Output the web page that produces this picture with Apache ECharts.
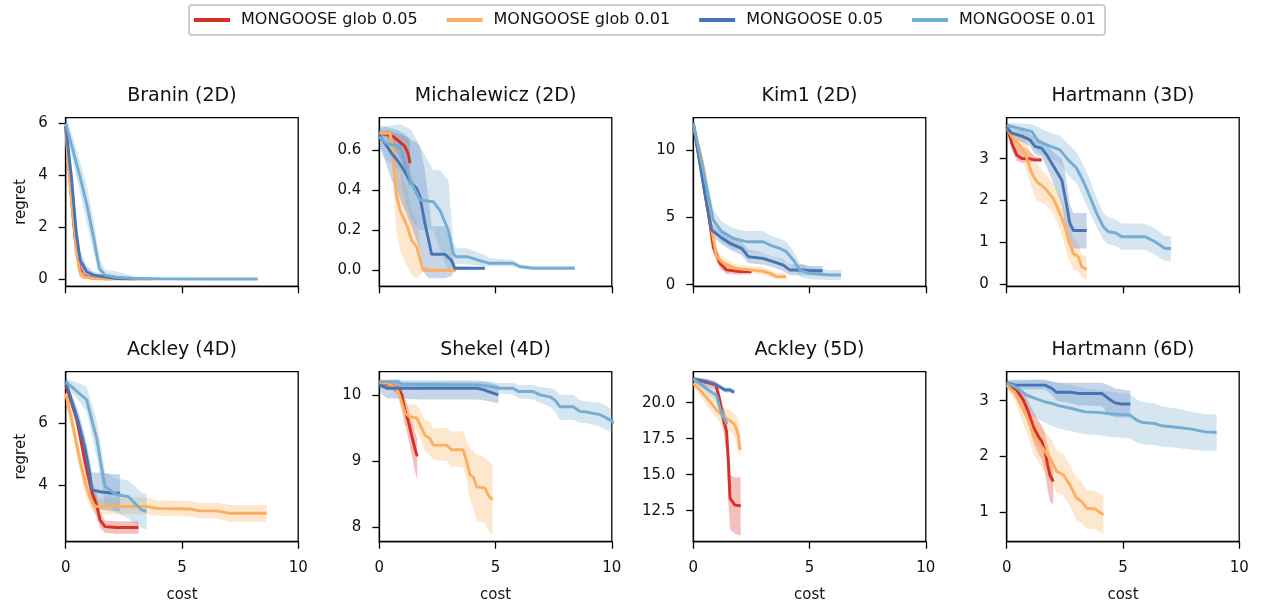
<!DOCTYPE html>
<html>
<head>
<meta charset="utf-8">
<script src="https://cdn.jsdelivr.net/npm/echarts@6/dist/echarts.min.js"></script>
<style>
html,body{margin:0;padding:0;background:#fff;}
#chart{width:1263px;height:607px;}
</style>
</head>
<body>
<div id="chart"></div>
<script>
// Each point: [cost, mean regret, lower band, upper band]
const seriesNames = ['MONGOOSE glob 0.05', 'MONGOOSE glob 0.01', 'MONGOOSE 0.05', 'MONGOOSE 0.01'];
const panelTitles = ['Branin (2D)', 'Michalewicz (2D)', 'Kim1 (2D)', 'Hartmann (3D)', 'Ackley (4D)', 'Shekel (4D)', 'Ackley (5D)', 'Hartmann (6D)'];
const xTicks = [0, 5, 10];

// Branin (2D)
const braninGlob05 = [[0,5.9,5.6,6.2],[0.2,3.6,3.0,4.3],[0.4,1.6,1.0,2.3],[0.6,0.4,0.1,0.8],[0.8,0.1,0,0.25],[1.2,0.03,0,0.08],[1.8,0.01,0,0.03],[2.0,0.01,0,0.02]];
const braninGlob01 = [[0,5.8,5.4,6.1],[0.15,4.0,3.4,4.6],[0.3,2.6,2.0,3.2],[0.45,1.2,0.7,1.8],[0.6,0.3,0.1,0.6],[0.8,0.08,0,0.2],[1.2,0.02,0,0.06],[2.0,0.01,0,0.03],[3.0,0.0,0,0.02],[3.7,0.0,0,0.01]];
const braninM05 = [[0,5.9,5.6,6.2],[0.26,3.8,3.3,4.3],[0.45,1.8,1.3,2.4],[0.62,0.73,0.45,1.1],[0.9,0.28,0.12,0.5],[1.2,0.15,0.05,0.28],[1.6,0.1,0.03,0.18],[2.2,0.02,0,0.06],[3.0,0.01,0,0.03]];
const braninM01 = [[0,6.0,5.8,6.3],[0.3,5.0,4.6,5.5],[0.6,4.0,3.4,4.6],[0.9,2.9,2.2,3.6],[1.2,1.6,1.0,2.3],[1.45,0.4,0.15,0.8],[1.7,0.15,0.05,0.35],[2.2,0.07,0.02,0.3],[3.0,0.02,0,0.08],[4.0,0.01,0,0.03],[6.0,0.0,0,0.02],[8.26,0.0,0,0.01]];
const braninY = [-0.28, 6.22]; const braninTicks = [0, 2, 4, 6];

// Michalewicz (2D)
const michGlob05 = [[0,0.685,0.68,0.69],[0.3,0.68,0.66,0.7],[0.6,0.668,0.62,0.69],[0.9,0.64,0.56,0.68],[1.1,0.62,0.48,0.67],[1.25,0.58,0.43,0.66],[1.32,0.535,0.42,0.65]];
const michGlob01 = [[0,0.685,0.68,0.69],[0.46,0.685,0.66,0.7],[0.57,0.62,0.5,0.69],[0.72,0.385,0.2,0.6],[0.89,0.30,0.1,0.5],[1.05,0.26,0.05,0.45],[1.2,0.22,0.02,0.4],[1.39,0.15,-0.02,0.3],[1.6,0.12,-0.04,0.25],[1.89,0.0,-0.01,0.02],[2.5,0.0,0,0.0],[3.3,0.0,0,0]];
const michM05 = [[0,0.677,0.62,0.72],[0.24,0.635,0.55,0.72],[0.53,0.585,0.45,0.71],[0.82,0.543,0.38,0.7],[1.1,0.493,0.3,0.68],[1.39,0.435,0.22,0.65],[1.6,0.41,0.15,0.64],[1.75,0.368,0.1,0.62],[1.96,0.235,-0.02,0.5],[2.15,0.135,-0.04,0.33],[2.25,0.08,-0.04,0.22],[2.82,0.08,-0.04,0.22],[3.1,0.05,-0.03,0.15],[3.25,0.01,0,0.02],[4.54,0.01,0.005,0.015]];
const michM01 = [[0,0.668,0.64,0.7],[0.3,0.635,0.55,0.72],[0.89,0.618,0.5,0.73],[1.1,0.535,0.35,0.72],[1.39,0.435,0.25,0.7],[1.75,0.352,0.2,0.62],[2.32,0.343,0.2,0.5],[2.61,0.30,0.1,0.5],[2.97,0.20,0.0,0.45],[3.18,0.085,0.02,0.15],[3.3,0.068,0.03,0.11],[3.76,0.068,0.03,0.11],[4.47,0.043,0.02,0.08],[4.76,0.035,0.02,0.06],[5.76,0.035,0.02,0.05],[6.05,0.018,0.01,0.03],[6.62,0.01,0.005,0.02],[8.41,0.01,0.005,0.02]];
const michY = [-0.08, 0.763]; const michTicks = [0, 0.2, 0.4, 0.6];

// Kim1 (2D)
const kimGlob05 = [[0,12,11.8,12.2],[0.36,8.3,7.8,8.8],[0.65,5.3,4.7,5.9],[0.86,2.8,2.3,3.4],[1.15,1.6,1.2,2.0],[1.43,1.1,0.8,1.4],[2.0,0.97,0.75,1.2],[2.5,0.97,0.75,1.2]];
const kimGlob01 = [[0,12,11.8,12.2],[0.43,8.8,8.2,9.4],[0.72,4.8,4.2,5.4],[1.0,2.1,1.6,2.6],[1.29,1.6,1.2,2.0],[1.86,1.2,0.9,1.5],[2.44,1.1,0.85,1.4],[3.0,1.0,0.75,1.3],[3.3,0.85,0.6,1.1],[3.58,0.6,0.4,0.85],[4.0,0.6,0.4,0.85]];
const kimM05 = [[0,12,11.8,12.2],[0.57,6.05,5.5,6.6],[0.79,4.07,3.6,4.6],[1.15,3.57,3.1,4.0],[1.58,3.08,2.6,3.5],[2.08,2.7,2.2,3.2],[2.37,2.08,1.6,2.6],[3.0,1.96,1.5,2.4],[3.44,1.71,1.3,2.1],[3.87,1.46,1.0,1.9],[4.16,1.09,0.7,1.5],[4.73,1.09,0.7,1.5],[5.0,1.04,0.7,1.4],[5.56,1.04,0.7,1.4]];
const kimM01 = [[0,12,11.8,12.2],[0.57,7.3,6.5,8.1],[0.86,4.8,4.1,5.6],[1.22,3.95,3.2,4.7],[1.72,3.45,2.7,4.2],[2.29,3.2,2.4,4.0],[3.0,3.2,2.4,4.0],[3.3,2.95,2.2,3.7],[3.73,2.7,1.9,3.4],[4.0,2.46,1.7,3.2],[4.3,1.84,1.2,2.5],[4.59,1.09,0.6,1.6],[5.0,0.84,0.4,1.3],[5.88,0.72,0.35,1.1],[6.35,0.72,0.35,1.1]];
const kimY = [-0.12, 12.43]; const kimTicks = [0, 5, 10];

// Hartmann (3D)
const h3Glob05 = [[0,3.77,3.7,3.84],[0.22,3.37,3.2,3.55],[0.43,3.09,2.95,3.35],[0.65,3.0,2.9,3.3],[0.93,3.0,2.92,3.2],[1.22,2.97,2.92,3.05],[1.5,2.97,2.92,3.02]];
const h3Glob01 = [[0,3.73,3.65,3.8],[0.22,3.53,3.4,3.65],[0.5,3.37,3.1,3.55],[0.79,3.13,2.8,3.45],[1.08,2.65,2.3,3.1],[1.29,2.45,2.0,2.9],[1.65,2.29,1.9,2.65],[2.0,2.05,1.7,2.4],[2.29,1.69,1.3,2.1],[2.51,1.37,0.9,1.8],[2.65,1.05,0.6,1.5],[2.87,0.73,0.35,1.1],[3.08,0.65,0.3,1.0],[3.23,0.41,0.15,0.7],[3.44,0.35,0.1,0.65]];
const h3M05 = [[0,3.73,3.65,3.82],[0.22,3.61,3.5,3.72],[0.65,3.54,3.4,3.68],[1.0,3.45,3.3,3.6],[1.22,3.29,3.1,3.5],[1.5,3.25,3.05,3.45],[1.72,3.09,2.8,3.35],[1.94,2.89,2.5,3.2],[2.15,2.69,2.2,3.1],[2.37,2.49,1.9,3.0],[2.51,2.09,1.4,2.7],[2.72,1.45,1.0,1.9],[2.87,1.28,0.85,1.7],[3.44,1.28,0.85,1.7]];
const h3M01 = [[0,3.8,3.75,3.85],[0.5,3.73,3.6,3.85],[1.08,3.65,3.45,3.82],[1.36,3.41,3.15,3.75],[1.72,3.33,3.05,3.65],[2.29,3.21,2.9,3.55],[2.65,2.97,2.6,3.35],[3.01,2.77,2.4,3.15],[3.3,2.45,2.05,2.85],[3.58,2.09,1.7,2.5],[3.87,1.69,1.35,2.05],[4.16,1.37,1.05,1.7],[4.37,1.25,0.95,1.6],[4.66,1.23,0.92,1.55],[4.95,1.13,0.82,1.45],[5.95,1.13,0.82,1.45],[6.38,1.01,0.7,1.32],[6.81,0.85,0.55,1.15],[7.07,0.85,0.55,1.15]];
const h3Y = [-0.055, 3.98]; const h3Ticks = [0, 1, 2, 3];

// Ackley (4D)
const a4Glob05 = [[0,7.24,7.1,7.4],[0.47,6.16,5.9,6.4],[0.83,4.76,4.4,5.1],[1.12,3.78,3.4,4.2],[1.33,3.35,2.95,3.7],[1.48,2.86,2.6,3.15],[1.69,2.65,2.45,2.85],[2.19,2.62,2.42,2.82],[3.13,2.62,2.42,2.82]];
const a4Glob01 = [[0,6.97,6.7,7.2],[0.33,5.84,5.5,6.2],[0.62,4.76,4.4,5.1],[0.83,4.1,3.75,4.45],[1.05,3.57,3.25,3.9],[1.26,3.3,3.05,3.55],[2.91,3.3,3.05,3.6],[3.48,3.3,3.05,3.6],[3.9,3.24,3.0,3.5],[5.35,3.22,2.98,3.48],[5.78,3.16,2.92,3.42],[6.49,3.16,2.92,3.42],[7.07,3.08,2.8,3.35],[8.65,3.08,2.8,3.35]];
const a4M05 = [[0,7.35,7.25,7.45],[0.54,6.05,5.7,6.4],[0.83,5.19,4.8,5.6],[1.05,4.32,3.9,4.8],[1.12,3.84,3.3,4.4],[1.48,3.78,3.2,4.4],[2.05,3.73,3.15,4.35],[2.34,3.73,3.15,4.35]];
const a4M01 = [[0,7.35,7.25,7.45],[0.9,6.76,6.4,7.2],[1.33,5.51,4.9,6.1],[1.55,4.54,4.0,5.1],[1.69,3.95,3.4,4.4],[2.19,3.68,3.1,4.2],[2.7,3.62,2.9,4.15],[3.05,3.35,2.7,3.9],[3.27,3.19,2.6,3.75],[3.48,3.14,2.55,3.7]];
const a4Y = [2.16, 7.67]; const a4Ticks = [4, 6];

// Shekel (4D)
const shGlob05 = [[0,10.18,10.15,10.21],[0.46,10.15,10.1,10.2],[0.82,10.1,10.0,10.18],[0.96,10.0,9.85,10.12],[1.1,9.77,9.55,9.95],[1.25,9.6,9.35,9.8],[1.39,9.39,9.1,9.6],[1.53,9.19,8.85,9.45],[1.63,9.07,8.72,9.35]];
const shGlob01 = [[0,10.18,10.15,10.21],[0.32,10.18,10.14,10.22],[0.75,10.1,10.02,10.18],[0.89,9.97,9.85,10.1],[1.1,9.72,9.55,9.9],[1.32,9.67,9.5,9.85],[1.61,9.65,9.45,9.85],[1.75,9.55,9.35,9.78],[1.96,9.39,9.15,9.62],[2.18,9.34,9.08,9.6],[2.32,9.24,9.02,9.5],[2.9,9.24,9.0,9.5],[3.11,9.17,8.92,9.45],[3.61,9.17,8.9,9.45],[3.76,8.99,8.7,9.3],[3.9,8.79,8.4,9.2],[4.04,8.76,8.3,9.15],[4.19,8.61,8.1,9.1],[4.55,8.59,8.05,9.05],[4.69,8.48,7.95,9.0],[4.87,8.41,7.88,8.95]];
const shM05 = [[0,10.15,10.05,10.22],[0.32,10.1,9.95,10.2],[1.75,10.1,9.93,10.2],[4.19,10.1,9.93,10.2],[4.47,10.08,9.92,10.2],[4.76,10.04,9.9,10.18],[5.12,10.0,9.87,10.15]];
const shM01 = [[0,10.2,10.17,10.23],[0.82,10.2,10.16,10.24],[0.96,10.16,10.1,10.22],[4.19,10.15,10.08,10.22],[4.76,10.13,10.05,10.2],[5.19,10.1,10.02,10.18],[5.76,10.1,10.0,10.18],[5.98,10.05,9.95,10.15],[6.62,10.05,9.93,10.15],[6.91,10.0,9.88,10.12],[7.34,9.97,9.82,10.1],[7.56,9.92,9.75,10.08],[7.77,9.82,9.62,10.0],[8.34,9.82,9.62,10.0],[8.62,9.75,9.58,9.92],[8.92,9.74,9.57,9.9],[9.49,9.7,9.52,9.88],[9.78,9.65,9.47,9.83],[10.0,9.6,9.43,9.77],[10.2,9.57,9.4,9.74]];
const shY = [7.78, 10.35]; const shTicks = [8, 9, 10];

// Ackley (5D)
const a5Glob05 = [[0,21.64,21.5,21.8],[0.43,21.46,21.2,21.7],[0.97,21.23,20.9,21.5],[1.12,20.3,19.8,20.8],[1.29,18.91,18.0,19.7],[1.43,17.99,16.5,19.0],[1.51,15.9,13.0,17.5],[1.58,13.36,11.2,15.0],[1.79,12.89,10.9,14.8],[2.04,12.85,10.8,14.8]];
const a5Glob01 = [[0,21.34,21.1,21.6],[0.29,20.88,20.5,21.3],[0.72,20.07,19.5,20.6],[1.0,19.49,18.9,20.1],[1.29,19.03,18.3,19.7],[1.65,18.68,17.9,19.4],[1.79,18.45,17.6,19.2],[1.94,17.75,16.6,18.9],[2.01,16.71,16.2,17.5]];
const a5M05 = [[0,21.64,21.55,21.75],[0.57,21.46,21.35,21.6],[1.0,21.23,21.1,21.4],[1.36,20.88,20.7,21.05],[1.58,20.88,20.7,21.05],[1.76,20.72,20.55,20.9]];
const a5M01 = [[0,21.64,21.5,21.8],[0.36,21.23,21.0,21.5],[0.72,20.81,20.5,21.1],[1.0,20.49,20.1,20.9],[1.15,19.61,19.1,20.1],[1.29,19.03,18.5,19.6],[1.43,18.56,18.1,19.0],[1.46,18.5,18.1,18.9]];
const a5Y = [10.35, 22.15]; const a5Ticks = [12.5, 15, 17.5, 20];

// Hartmann (6D)
const h6Glob05 = [[0,3.32,3.28,3.36],[0.43,3.19,3.1,3.28],[0.72,3.01,2.85,3.15],[0.93,2.8,2.6,3.0],[1.15,2.53,2.25,2.8],[1.36,2.36,2.05,2.65],[1.51,2.27,1.95,2.55],[1.65,2.09,1.7,2.4],[1.76,1.85,1.4,2.2],[1.86,1.67,1.2,2.05],[2.0,1.55,1.13,1.9]];
const h6Glob01 = [[0,3.28,3.22,3.34],[0.36,3.13,3.0,3.25],[0.65,2.89,2.65,3.1],[0.93,2.65,2.35,2.9],[1.15,2.38,2.05,2.7],[1.43,2.21,1.85,2.55],[1.65,2.09,1.7,2.45],[1.94,1.91,1.55,2.3],[2.15,1.73,1.35,2.1],[2.44,1.67,1.3,2.05],[2.72,1.49,1.1,1.85],[3.01,1.25,0.85,1.6],[3.23,1.19,0.8,1.55],[3.44,1.07,0.7,1.4],[3.8,1.06,0.7,1.38],[4.16,0.95,0.6,1.3]];
const h6M05 = [[0,3.32,3.28,3.36],[0.36,3.28,3.2,3.36],[1.65,3.28,3.2,3.38],[1.94,3.22,3.1,3.35],[2.15,3.15,3.0,3.32],[2.8,3.15,2.95,3.32],[3.08,3.13,2.92,3.32],[4.09,3.13,2.9,3.32],[4.37,3.04,2.75,3.28],[4.66,2.96,2.7,3.22],[4.95,2.94,2.7,3.2],[5.32,2.94,2.7,3.18]];
const h6M01 = [[0,3.32,3.28,3.37],[0.36,3.25,3.1,3.38],[0.86,3.1,2.85,3.38],[1.22,3.04,2.7,3.38],[1.65,2.98,2.6,3.36],[1.94,2.95,2.55,3.35],[2.22,2.91,2.5,3.32],[2.8,2.86,2.45,3.28],[3.37,2.8,2.4,3.22],[3.94,2.79,2.38,3.2],[4.52,2.76,2.35,3.15],[5.3,2.74,2.32,3.12],[5.59,2.65,2.25,3.02],[5.81,2.61,2.22,2.98],[6.38,2.59,2.2,2.95],[6.67,2.55,2.18,2.9],[7.38,2.52,2.15,2.85],[7.96,2.49,2.12,2.8],[8.53,2.44,2.1,2.76],[9.03,2.43,2.1,2.75]];
const h6Y = [0.47, 3.52]; const h6Ticks = [1, 2, 3];

const panelSeries = [
  [braninGlob05, braninGlob01, braninM05, braninM01],
  [michGlob05, michGlob01, michM05, michM01],
  [kimGlob05, kimGlob01, kimM05, kimM01],
  [h3Glob05, h3Glob01, h3M05, h3M01],
  [a4Glob05, a4Glob01, a4M05, a4M01],
  [shGlob05, shGlob01, shM05, shM01],
  [a5Glob05, a5Glob01, a5M05, a5M01],
  [h6Glob05, h6Glob01, h6M05, h6M01]
];
const panelYRange = [braninY, michY, kimY, h3Y, a4Y, shY, a5Y, h6Y];
const panelYTicks = [braninTicks, michTicks, kimTicks, h3Ticks, a4Ticks, shTicks, a5Ticks, h6Ticks];
const panelYDecimals = [0, 1, 0, 0, 0, 0, 1, 0];

// ---- styling / layout ----
const COLORS = ['#d73027', '#fdae61', '#4575b4', '#74add1'];
const BAND_ALPHA = 0.3;
const FONT = 'DejaVu Sans';
const TXT = '#111';
const colLeft = [65.7, 379.3, 693.3, 1006.7];
const gridW = 232.5;
const rowTop = [117.7, 371.7];
const rowH = [168.6, 170];

function rgba(hex, a) {
  const n = parseInt(hex.slice(1), 16);
  return 'rgba(' + ((n >> 16) & 255) + ',' + ((n >> 8) & 255) + ',' + (n & 255) + ',' + a + ')';
}

const grids = [], xAxes = [], yAxes = [], titles = [], series = [];
for (let i = 0; i < 8; i++) {
  const row = Math.floor(i / 4), col = i % 4;
  grids.push({left: colLeft[col], top: rowTop[row], width: gridW, height: rowH[row],
    show: true, borderColor: '#000', borderWidth: 1.3, backgroundColor: 'transparent', containLabel: false});
  titles.push({text: panelTitles[i], left: colLeft[col] + gridW / 2, textAlign: 'center',
    top: rowTop[row] - 31, padding: 0,
    textStyle: {fontFamily: FONT, fontSize: 19, fontWeight: 'normal', color: TXT}});
  xAxes.push({type: 'value', gridIndex: i, min: 0, max: 10,
    axisLine: {show: true, onZero: false, lineStyle: {color: '#000', width: 1.3}},
    axisTick: {show: true, length: 7, customValues: xTicks, lineStyle: {color: '#000', width: 1.3}},
    axisLabel: {show: row === 1, customValues: xTicks, fontFamily: FONT, fontSize: 15, color: TXT, margin: 19},
    splitLine: {show: false},
    name: row === 1 ? 'cost' : '', nameLocation: 'middle', nameGap: 46,
    nameTextStyle: {fontFamily: FONT, fontSize: 15, color: TXT}});
  const dec = panelYDecimals[i];
  yAxes.push({type: 'value', gridIndex: i, min: panelYRange[i][0], max: panelYRange[i][1],
    axisLine: {show: true, onZero: false, lineStyle: {color: '#000', width: 1.3}},
    axisTick: {show: true, length: 7, customValues: panelYTicks[i], lineStyle: {color: '#000', width: 1.3}},
    axisLabel: {show: true, customValues: panelYTicks[i], fontFamily: FONT, fontSize: 15, color: TXT, margin: 18,
      formatter: v => Number(v).toFixed(dec)},
    splitLine: {show: false},
    name: col === 0 ? 'regret' : '', nameLocation: 'middle', nameGap: 37, nameRotate: 90,
    nameTextStyle: {fontFamily: FONT, fontSize: 15, color: TXT}});

  panelSeries[i].forEach((pts, j) => {
    series.push({
      type: 'custom', name: 'band' + i + '_' + j, xAxisIndex: i, yAxisIndex: i, silent: true, z: 1,
      data: pts.map(p => [p[0], p[2], p[3]]),
      encode: {x: 0, y: [1, 2]},
      renderItem: (params, api) => {
        if (params.dataIndex !== 0) return null;
        const poly = [];
        for (let k = 0; k < pts.length; k++) poly.push(api.coord([pts[k][0], pts[k][3]]));
        for (let k = pts.length - 1; k >= 0; k--) poly.push(api.coord([pts[k][0], pts[k][2]]));
        const cs = params.coordSys;
        return {type: 'polygon', shape: {points: poly},
          style: {fill: rgba(COLORS[j], BAND_ALPHA), stroke: null},
          clipPath: {type: 'rect', shape: {x: cs.x, y: cs.y, width: cs.width, height: cs.height}}};
      }
    });
  });
  panelSeries[i].forEach((pts, j) => {
    series.push({
      type: 'line', name: seriesNames[j], xAxisIndex: i, yAxisIndex: i, z: 2 + j,
      data: pts.map(p => [p[0], p[1]]),
      symbol: 'none', showSymbol: false, clip: true,
      lineStyle: {color: COLORS[j], width: 2.9}, itemStyle: {color: COLORS[j]}
    });
  });
}

const chart = echarts.init(document.getElementById('chart'), null, {renderer: 'canvas'});
chart.setOption({
  animation: false,
  backgroundColor: '#fff',
  textStyle: {fontFamily: FONT},
  title: titles,
  legend: {
    data: seriesNames, left: 189, top: 5, orient: 'horizontal', icon: 'rect',
    itemWidth: 36, itemHeight: 4, itemGap: 29,
    padding: [7, 9, 7, 5], borderColor: '#cccccc', borderWidth: 2, borderRadius: 3, backgroundColor: '#fff',
    selectedMode: false,
    textStyle: {fontFamily: FONT, fontSize: 16, color: TXT, padding: [0, 0, 0, 6]}
  },
  grid: grids, xAxis: xAxes, yAxis: yAxes, series: series
});
</script>
</body>
</html>
